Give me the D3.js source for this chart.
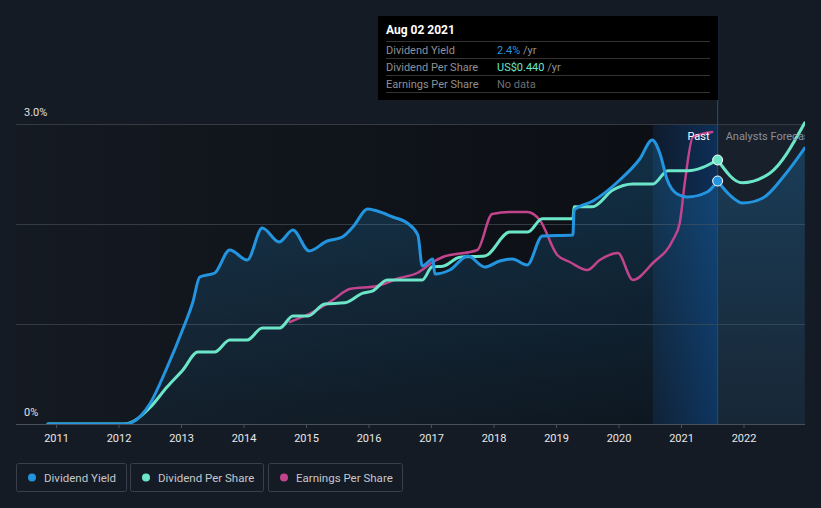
<!DOCTYPE html>
<html>
<head>
<meta charset="utf-8">
<script src="https://cdn.jsdelivr.net/npm/d3@7"></script>
<style>
  body { margin: 0; background: #151b25; }
  svg { display: block; font-family: Roboto, "Noto Sans", sans-serif; }
</style>
</head>
<body>
<svg id="chart" width="821" height="508"></svg>
<script>
// dividend yield, % (decimal year -> value)
var yieldYears = [2010.87, 2012.10, 2012.23, 2012.50, 2012.78, 2013.03, 2013.19, 2013.30, 2013.54, 2013.78, 2014.06, 2014.30,
  2014.57, 2014.79, 2015.05, 2015.34, 2015.58, 2015.75, 2015.99, 2016.14, 2016.39, 2016.62, 2016.79, 2016.86,
  2017.03, 2017.06, 2017.30, 2017.59, 2017.86, 2018.10, 2018.30, 2018.54, 2018.78, 2019.27, 2019.29, 2019.59,
  2020.02, 2020.34, 2020.54, 2020.66, 2020.78, 2020.94, 2021.10, 2021.42, 2021.586];
var yieldVals = [0, 0, 0.02, 0.2, 0.57, 0.95, 1.22, 1.47, 1.51, 1.74, 1.64, 1.96,
  1.82, 1.94, 1.73, 1.83, 1.87, 1.97, 2.15, 2.13, 2.07, 2.01, 1.89, 1.58,
  1.65, 1.50, 1.54, 1.68, 1.57, 1.63, 1.65, 1.59, 1.88, 1.89, 2.14, 2.23,
  2.44, 2.65, 2.84, 2.71, 2.44, 2.30, 2.27, 2.32, 2.43];
var yieldFcYears = [2021.586, 2021.78, 2021.99, 2022.31, 2022.66, 2022.98];
var yieldFcVals = [2.43, 2.29, 2.21, 2.26, 2.49, 2.76];

// dividend per share, US$
var dpsYears = [2010.87, 2012.10, 2012.23, 2012.50, 2012.78, 2013.03, 2013.27, 2013.54, 2013.78, 2014.06, 2014.30, 2014.58,
  2014.79, 2015.03, 2015.30, 2015.62, 2015.91, 2016.07, 2016.30, 2016.86, 2017.02, 2017.19, 2017.46, 2017.86,
  2018.26, 2018.55, 2018.78, 2019.27, 2019.29, 2019.58, 2019.91, 2020.23, 2020.55, 2020.79, 2021.11, 2021.586];
var dpsVals = [0, 0, 0.004, 0.027, 0.062, 0.09, 0.12, 0.12, 0.14, 0.14, 0.16, 0.16,
  0.18, 0.18, 0.20, 0.202, 0.218, 0.222, 0.24, 0.24, 0.262, 0.263, 0.278, 0.28,
  0.32, 0.32, 0.342, 0.342, 0.362, 0.362, 0.39, 0.40, 0.40, 0.422, 0.422, 0.44];
var dpsFcYears = [2021.586, 2021.98, 2022.42, 2022.98];
var dpsFcVals = [0.44, 0.402, 0.418, 0.502];

// earnings per share, US$
var epsYears = [2014.74, 2015.11, 2015.43, 2015.70, 2016.14, 2016.50, 2016.78, 2017.03, 2017.19, 2017.74, 2017.98, 2018.26,
  2018.54, 2018.74, 2019.02, 2019.22, 2019.50, 2019.70, 2019.99, 2020.23, 2020.55, 2020.87, 2020.98, 2021.06,
  2021.19, 2021.50];
var epsVals = [1.02, 1.12, 1.24, 1.35, 1.38, 1.46, 1.51, 1.62, 1.67, 1.74, 2.10, 2.12,
  2.12, 2.04, 1.69, 1.62, 1.54, 1.64, 1.71, 1.44, 1.61, 1.84, 2.01, 2.41,
  2.87, 2.92];

var yearTicks = [2011, 2012, 2013, 2014, 2015, 2016, 2017, 2018, 2019, 2020, 2021, 2022];
var yTicks = [0, 1, 2, 3];
var legendNames = ["Dividend Yield", "Dividend Per Share", "Earnings Per Share"];
var legendColors = ["#2394df", "#6ce5c8", "#c2448c"];
var tipRows = [["Dividend Yield", "2.4%", " /yr"], ["Dividend Per Share", "US$0.440", " /yr"], ["Earnings Per Share", "No data", ""]];
var tipValueColors = ["#2394df", "#6ce5c8", "#6b6f75"];

var plotL = 16, plotR = 805, plotT = 124, plotB = 424;
var nowYear = 2021.586, bandStart = 2020.55;

var x = d3.scaleLinear().domain([2011, 2022]).range([56, 743.5]);
var yPct = d3.scaleLinear().domain([0, 3]).range([plotB, plotT]);
var yDps = d3.scaleLinear().domain([0, 0.5]).range([plotB, plotT]);
var yEps = d3.scaleLinear().domain([0, 3]).range([plotB, plotT]);

var svg = d3.select("#chart");
var defs = svg.append("defs");

var g1 = defs.append("linearGradient").attr("id", "pastBg").attr("x1", 0).attr("x2", 1).attr("y1", 0).attr("y2", 0);
g1.append("stop").attr("offset", 0).attr("stop-color", "#141a22");
g1.append("stop").attr("offset", 1).attr("stop-color", "#0c0f14");
var g2 = defs.append("linearGradient").attr("id", "band").attr("x1", 0).attr("x2", 1).attr("y1", 0).attr("y2", 0);
g2.append("stop").attr("offset", 0).attr("stop-color", "#0f1b2c");
g2.append("stop").attr("offset", 1).attr("stop-color", "#0d2f58");
var g3 = defs.append("linearGradient").attr("id", "areaFill").attr("x1", 0).attr("x2", 0).attr("y1", 0).attr("y2", 1);
g3.append("stop").attr("offset", 0).attr("stop-color", "#2394df").attr("stop-opacity", 0.25);
g3.append("stop").attr("offset", 1).attr("stop-color", "#2394df").attr("stop-opacity", 0.06);
defs.append("clipPath").attr("id", "plotClip").append("rect")
  .attr("x", plotL).attr("y", 0).attr("width", plotR - plotL).attr("height", plotB);

// backgrounds
svg.append("rect").attr("x", plotL).attr("y", plotT).attr("width", x(bandStart) - plotL).attr("height", plotB - plotT).attr("fill", "url(#pastBg)");
svg.append("rect").attr("x", x(bandStart)).attr("y", plotT).attr("width", x(nowYear) - x(bandStart)).attr("height", plotB - plotT).attr("fill", "url(#band)");
svg.append("rect").attr("x", x(nowYear)).attr("y", plotT).attr("width", plotR - x(nowYear)).attr("height", plotB - plotT).attr("fill", "#17202b");

// grid
svg.selectAll(".grid").data(yTicks.slice(1)).enter().append("line")
  .attr("x1", plotL).attr("x2", plotR)
  .attr("y1", function(d) { return yPct(d) + 0.5; }).attr("y2", function(d) { return yPct(d) + 0.5; })
  .attr("stroke", "#353b45").attr("stroke-width", 1);

var plot = svg.append("g").attr("clip-path", "url(#plotClip)");

function zip(xs, vs) { return xs.map(function(d, i) { return [d, vs[i]]; }); }
var yieldAll = zip(yieldYears, yieldVals).concat(zip(yieldFcYears.slice(1), yieldFcVals.slice(1)));

var area = d3.area().curve(d3.curveMonotoneX)
  .x(function(d) { return x(d[0]); }).y0(plotB).y1(function(d) { return yPct(d[1]); });
plot.append("path").datum(yieldAll).attr("d", area).attr("fill", "url(#areaFill)");

function drawLine(pts, ys, color, w) {
  var line = d3.line().curve(d3.curveMonotoneX)
    .x(function(d) { return x(d[0]); }).y(function(d) { return ys(d[1]); });
  plot.append("path").datum(pts).attr("d", line)
    .attr("fill", "none").attr("stroke", color).attr("stroke-width", w)
    .attr("stroke-linejoin", "round").attr("stroke-linecap", "round");
}
drawLine(zip(epsYears, epsVals), yEps, legendColors[2], 2.5);
drawLine(zip(dpsYears, dpsVals), yDps, legendColors[1], 3);
drawLine(zip(dpsFcYears, dpsFcVals), yDps, legendColors[1], 3);
drawLine(zip(yieldYears, yieldVals), yPct, legendColors[0], 3);
drawLine(zip(yieldFcYears, yieldFcVals), yPct, legendColors[0], 3);

// now line
svg.append("line").attr("x1", x(nowYear)).attr("x2", x(nowYear)).attr("y1", 16).attr("y2", plotB)
  .attr("stroke", "#1f4e80").attr("stroke-width", 1);

// dots at the hover date
svg.append("circle").attr("cx", x(nowYear)).attr("cy", yDps(0.44)).attr("r", 5)
  .attr("fill", legendColors[1]).attr("stroke", "#fff").attr("stroke-width", 1);
svg.append("circle").attr("cx", x(nowYear)).attr("cy", yPct(2.43)).attr("r", 5)
  .attr("fill", legendColors[0]).attr("stroke", "#fff").attr("stroke-width", 1);

// Past / forecast labels
svg.append("text").attr("x", x(nowYear) - 8).attr("y", 140).attr("text-anchor", "end")
  .attr("fill", "#fff").attr("font-size", 11).text("Past");
svg.append("g").attr("clip-path", "url(#plotClip)").append("text")
  .attr("x", x(nowYear) + 8).attr("y", 140).attr("fill", "#8a9099").attr("font-size", 11).text("Analysts Forecast");

// axes
var xAxis = d3.axisBottom(x).tickValues(yearTicks).tickFormat(d3.format("d")).tickSize(4).tickPadding(6);
var ax = svg.append("g").attr("transform", "translate(0," + plotB + ")").call(xAxis);
ax.select(".domain").attr("d", "M" + plotL + ",0.5H" + plotR).attr("stroke", "#4a505a");
ax.selectAll(".tick line").attr("stroke", "#4a505a");
ax.selectAll(".tick text").attr("fill", "#e8e8e8").attr("font-size", 11).attr("font-family", "Roboto, sans-serif");

svg.append("text").attr("x", 24).attr("y", yPct(3) - 8).attr("fill", "#e0e0e0").attr("font-size", 11).text("3.0%");
svg.append("text").attr("x", 24).attr("y", yPct(0) - 8).attr("fill", "#e0e0e0").attr("font-size", 11).text("0%");

// tooltip
var tip = svg.append("g").attr("transform", "translate(378,16)");
tip.append("rect").attr("width", 340).attr("height", 84).attr("fill", "#000");
tip.append("text").attr("x", 8).attr("y", 18).attr("fill", "#fff").attr("font-size", 12).attr("font-weight", "bold").text("Aug 02 2021");
tipRows.forEach(function(r, i) {
  var yy = 25 + i * 17;
  tip.append("line").attr("x1", 8).attr("x2", 332).attr("y1", yy + 0.5).attr("y2", yy + 0.5).attr("stroke", "#333");
  tip.append("text").attr("x", 8).attr("y", yy + 13).attr("fill", "#8d9196").attr("font-size", 11).text(r[0]);
  var t = tip.append("text").attr("x", 119).attr("y", yy + 13).attr("font-size", 11);
  t.append("tspan").attr("fill", tipValueColors[i]).text(r[1]);
  t.append("tspan").attr("fill", "#8d9196").text(r[2]);
});
tip.append("line").attr("x1", 8).attr("x2", 332).attr("y1", 76.5).attr("y2", 76.5).attr("stroke", "#333");

// legend
var legendX = [16, 130, 268], legendW = [110, 133, 134];
legendNames.forEach(function(name, i) {
  var lg = svg.append("g").attr("transform", "translate(" + legendX[i] + ",463)");
  lg.append("rect").attr("x", 0.5).attr("y", 0.5).attr("width", legendW[i]).attr("height", 28).attr("rx", 2)
    .attr("fill", "none").attr("stroke", "#3a404b");
  lg.append("circle").attr("cx", 16).attr("cy", 14.5).attr("r", 4).attr("fill", legendColors[i]);
  lg.append("text").attr("x", 28).attr("y", 18.5).attr("fill", "#c4c7cc").attr("font-size", 11.5).text(name);
});
</script>
</body>
</html>
